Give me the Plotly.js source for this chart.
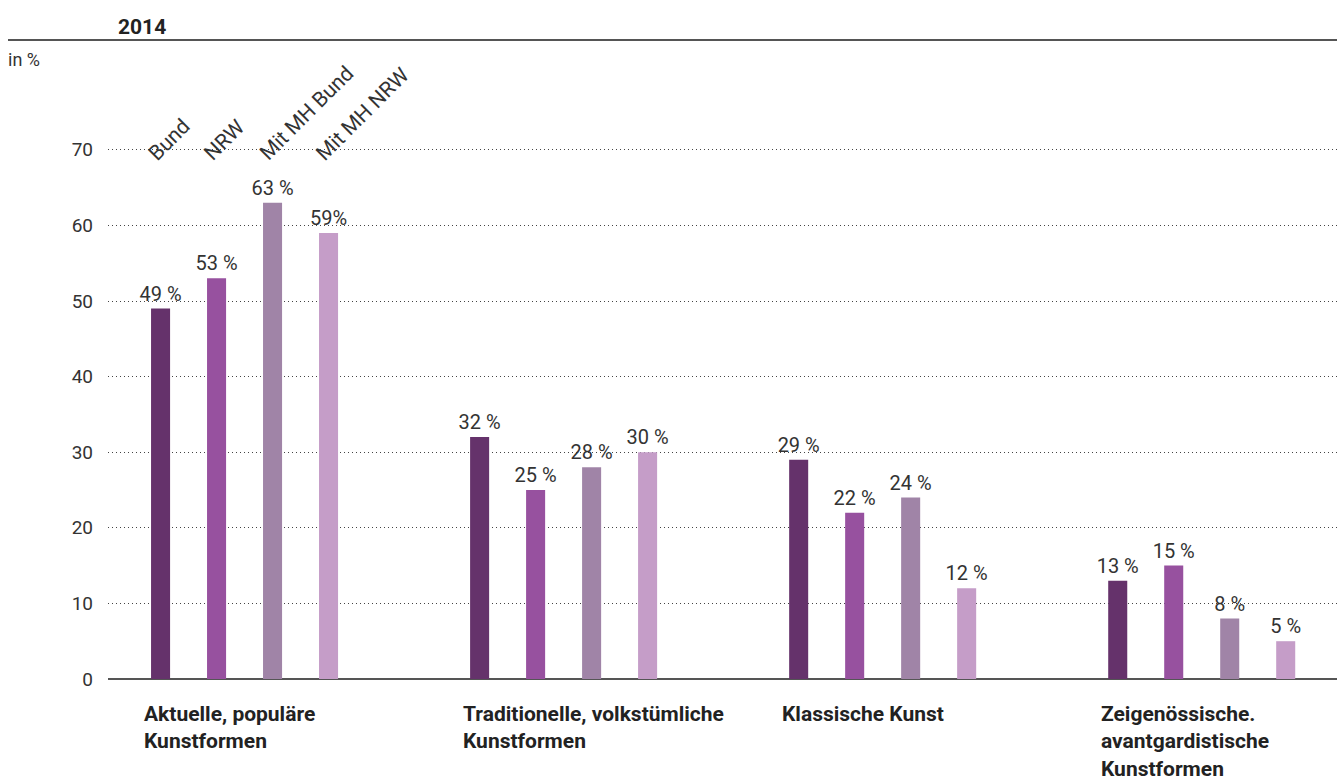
<!DOCTYPE html>
<html><head><meta charset="utf-8">
<script src="https://cdn.plot.ly/plotly-3.0.1.min.js"></script>
<style>html,body{margin:0;padding:0;background:#fff}#chart{width:1337px;height:782px}</style>
</head><body><div id="chart"></div>
<script>
const categories = ["Aktuelle, populäre<br>Kunstformen","Traditionelle, volkstümliche<br>Kunstformen","Klassische Kunst","Zeigenössische.<br>avantgardistische<br>Kunstformen"];
const seriesNames = ["Bund","NRW","Mit MH Bund","Mit MH NRW"];
const bund = [49,32,29,13];
const nrw = [53,25,22,15];
const mhBund = [63,28,24,8];
const mhNrw = [59,30,12,5];
const labelsBund = ["49 %","32 %","29 %","13 %"];
const labelsNrw = ["53 %","25 %","22 %","15 %"];
const labelsMhBund = ["63 %","28 %","24 %","8 %"];
const labelsMhNrw = ["59%","30 %","12 %","5 %"];
const colors = ["#65326b","#97519f","#a084a7","#c59dc8"];

const FONT = "Roboto, 'Liberation Sans', sans-serif";
const xs = [0,1,2,3];
const vals = [bund,nrw,mhBund,mhNrw];
const labs = [labelsBund,labelsNrw,labelsMhBund,labelsMhNrw];
const traces = vals.map((v,i)=>({
  type:'bar', x:xs, y:v, name:seriesNames[i], text:labs[i],
  textposition:'outside', cliponaxis:false, constraintext:'none',
  textfont:{size:20,color:'#333',family:FONT},
  marker:{color:colors[i]}, hoverinfo:'skip'
}));

const slot = 0.7015/4;
const annotations = [];
categories.forEach((c,i)=>annotations.push({
  xref:'x', yref:'paper', x:i, y:0, xanchor:'left', yanchor:'top',
  xshift:-103, yshift:-21, align:'left', showarrow:false,
  text:'<b>'+c+'</b>', font:{size:21,color:'#222',family:FONT}
}));
seriesNames.forEach((s,k)=>annotations.push({
  xref:'x', yref:'y', x:-1.5*slot + k*slot, y:68.4, xanchor:'left', yanchor:'bottom',
  xshift:-20, yshift:-6, textangle:-45, showarrow:false, text:s,
  font:{size:21,color:'#333',family:FONT}
}));
annotations.push({xref:'paper',yref:'paper',x:0,y:1,xanchor:'left',yanchor:'bottom',
  xshift:-102, yshift:40, showarrow:false, text:'in %', font:{size:18,color:'#333',family:FONT}});
annotations.push({xref:'paper',yref:'paper',x:0,y:1,xanchor:'left',yanchor:'bottom',
  xshift:8, yshift:71, showarrow:false, text:'<b>2014</b>', font:{size:21,color:'#222',family:FONT}});

const layout = {
  width:1337, height:782,
  margin:{l:108,r:0,t:112,b:103},
  paper_bgcolor:'#fff', plot_bgcolor:'#fff',
  showlegend:false, barmode:'group', bargap:0.298, bargroupgap:0.66,
  font:{family:FONT,color:'#333'},
  xaxis:{type:'linear', range:[-0.428,3.424], showticklabels:false, showgrid:false, zeroline:false, ticks:''},
  yaxis:{range:[0,75], tickvals:[0,10,20,30,40,50,60,70], showgrid:true, gridcolor:'#444', griddash:'1px,3px', gridwidth:1,
    zeroline:true, zerolinecolor:'#555', zerolinewidth:2, ticks:'', ticklabelstandoff:14,
    tickfont:{size:19,color:'#333',family:FONT}},
  annotations:annotations,
  shapes:[{type:'line',xref:'paper',yref:'paper',x0:-100/1229,x1:1,
    line:{color:'#555',width:2}, ysizemode:'pixel', yanchor:1, y0:72, y1:72}]
};
Plotly.newPlot('chart', traces, layout, {displayModeBar:false, staticPlot:true});
</script></body></html>
